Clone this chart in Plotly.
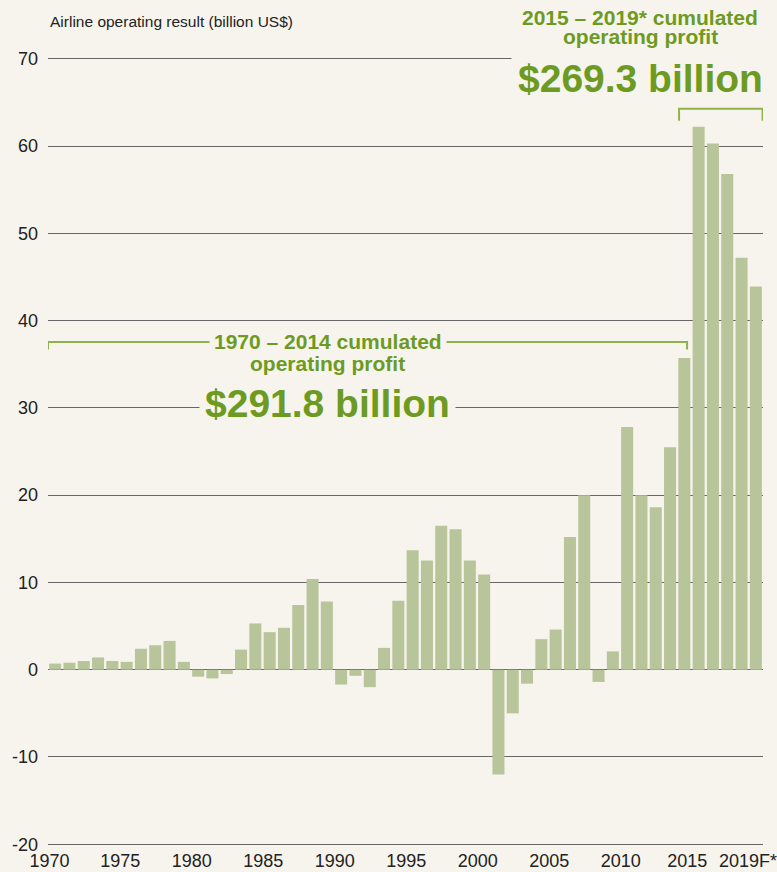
import plotly.graph_objects as go

# operating result, billion US$
years = list(range(1970, 2020))
result = [0.7, 0.8, 1.0, 1.4, 1.0, 0.9, 2.4, 2.8, 3.3, 0.9,
          -0.8, -1.0, -0.5, 2.3, 5.3, 4.3, 4.8, 7.4, 10.4, 7.8,
          -1.7, -0.7, -2.0, 2.5, 7.9, 13.7, 12.5, 16.5, 16.1, 12.5,
          10.9, -12.0, -5.0, -1.6, 3.5, 4.6, 15.2, 20.0, -1.4, 2.1,
          27.8, 20.0, 18.6, 25.5, 35.7, 62.2, 60.3, 56.8, 47.2, 43.9]

tick_pos = [1969.6, 1974.55, 1979.55, 1984.55, 1989.55, 1994.55, 1999.55,
            2004.55, 2009.55, 2014.2, 2018.45]
tick_text = ['1970', '1975', '1980', '1985', '1990', '1995', '2000',
             '2005', '2010', '2015', '2019F*']
y_ticks = [-20, -10, 0, 10, 20, 30, 40, 50, 60, 70]
y_text = ['-20', '-10', '0', '10', '20', '30', '40', '50', '60', '70']

BG = '#f7f4ed'
GREEN = '#6d9b22'
BRACKET = '#8fb34a'
FONT = 'Liberation Sans, Arial, sans-serif'

# plot area spans y pixels 57..846
def py(pix):
    return (846 - pix) / 789

fig = go.Figure(go.Bar(x=years, y=result, marker=dict(color='#b8c49a', line=dict(width=0))))

fig.update_layout(
    width=777, height=872,
    paper_bgcolor=BG, plot_bgcolor=BG,
    margin=dict(l=48, r=14, t=57, b=26),
    bargap=0.16,
    showlegend=False,
    font=dict(family=FONT, color='#222', size=18),
)

fig.update_xaxes(range=[1969.5, 2019.5], tickvals=tick_pos, ticktext=tick_text,
                 showgrid=False, zeroline=False, showline=False, ticks='', automargin=False,
                 ticklabeloverflow='allow', ticklabelstandoff=2,
                 tickfont=dict(size=18, family=FONT, color='#222'))
fig.update_yaxes(range=[-20.2, 70.2], tickvals=y_ticks, ticktext=y_text, showgrid=True,
                 gridcolor='#666', gridwidth=1, zeroline=True, zerolinecolor='#666',
                 zerolinewidth=1, ticks='', ticklabelstandoff=9, automargin=False,
                 tickfont=dict(size=18, family=FONT, color='#222'))

# axis title as plain text top-left
fig.add_annotation(x=0, xref='paper', xanchor='left', y=py(21), yref='paper', yanchor='middle',
                   text='Airline operating result (billion US$)', showarrow=False,
                   font=dict(size=15.5, family=FONT, color='#222'))

# brackets
fig.add_shape(type='path', xref='x', yref='y',
              path='M 1969.5 36.7 L 1969.5 37.55 L 2014.19 37.55 L 2014.19 36.7',
              line=dict(color=BRACKET, width=2))
fig.add_shape(type='path', xref='x', yref='y',
              path='M 2013.63 62.9 L 2013.63 64.28 L 2019.47 64.28 L 2019.47 62.9',
              line=dict(color=BRACKET, width=2))

# 1970-2014 labels
fig.add_annotation(x=1989.05, y=37.6, xref='x', yref='y', showarrow=False,
                   xanchor='center', yanchor='middle',
                   text='<b>1970 – 2014 cumulated</b>', bgcolor=BG, borderpad=4,
                   font=dict(size=21, family=FONT, color=GREEN))
fig.add_annotation(x=1989.05, y=35.1, xref='x', yref='y', showarrow=False,
                   xanchor='center', yanchor='middle',
                   text='<b>operating profit</b>',
                   font=dict(size=21, family=FONT, color=GREEN))
fig.add_annotation(x=1989.05, y=30.5, xref='x', yref='y', showarrow=False,
                   xanchor='center', yanchor='middle',
                   text='<b>$291.8 billion</b>', bgcolor=BG, borderpad=5,
                   font=dict(size=39, family=FONT, color=GREEN))

# 2015-2019 labels
fig.add_annotation(x=2010.9, y=py(17), xref='x', yref='paper', showarrow=False,
                   xanchor='center', yanchor='middle',
                   text='<b>2015 – 2019* cumulated</b>',
                   font=dict(size=21, family=FONT, color=GREEN))
fig.add_annotation(x=2010.9, y=py(37), xref='x', yref='paper', showarrow=False,
                   xanchor='center', yanchor='middle',
                   text='<b>operating profit</b>',
                   font=dict(size=21, family=FONT, color=GREEN))
fig.add_annotation(x=2010.9, y=py(78), xref='x', yref='paper', showarrow=False,
                   xanchor='center', yanchor='middle',
                   text='<b>$269.3 billion</b>', bgcolor=BG, borderpad=6,
                   font=dict(size=39, family=FONT, color=GREEN))

fig.write_html('out.html', config={'displayModeBar': False},
               post_script="document.body.style.margin='0';document.body.style.overflow='hidden';")
